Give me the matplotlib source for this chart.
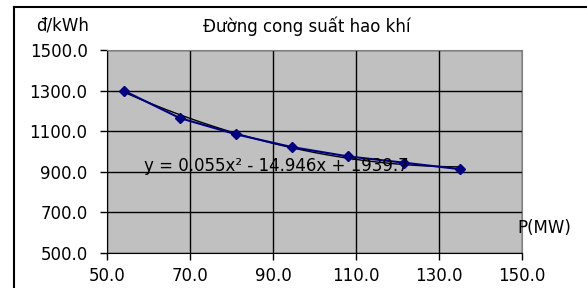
import numpy as np
import matplotlib.pyplot as plt
from matplotlib.lines import Line2D

# data
p_mw = [54.0, 67.5, 81.0, 94.5, 108.0, 121.5, 135.0]
cost = [1300.0, 1165.0, 1085.0, 1022.0, 976.0, 945.0, 913.0]
trend_coef = [0.055, -14.946, 1939.7]  # quadratic trendline shown on the chart

x_ticks = [50, 70, 90, 110, 130, 150]
y_ticks = [500, 700, 900, 1100, 1300, 1500]

plt.rcParams['font.family'] = ['DejaVu Sans']
FS = 12

fig = plt.figure(figsize=(5.87, 2.88), dpi=100)
ax = fig.add_axes([0.1823, 0.1215, 0.7070, 0.705])
ax.set_facecolor('#C0C0C0')

xt = np.linspace(p_mw[0], p_mw[-1], 100)
ax.plot(xt, np.polyval(trend_coef, xt), color='black', lw=1.0, zorder=3)
ax.plot(p_mw, cost, color='#000080', lw=1.5, marker='D', ms=5.5, zorder=4)

ax.set_xlim(50, 150)
ax.set_ylim(500, 1500)
ax.set_xticks(x_ticks)
ax.set_yticks(y_ticks)
ax.set_xticklabels([f"{v:.1f}" for v in x_ticks])
ax.set_yticklabels([f"{v:.1f}" for v in y_ticks])
ax.grid(True, color='black', lw=1.0)
ax.set_axisbelow(True)
ax.tick_params(axis='both', labelsize=FS, length=5, width=1, direction='out')
ax.tick_params(axis='y', pad=9)
ax.tick_params(axis='x', pad=5)
for s in ['top', 'right']:
    ax.spines[s].set_color('#808080')
for s in ['left', 'bottom']:
    ax.spines[s].set_color('black')

ax.text(59, 930, "y = 0.055x² - 14.946x + 1939.7", fontsize=FS,
        va='center', ha='left', zorder=5)

fig.text(307 / 587, 1 - 26 / 288, "Đường cong suất hao khí", fontsize=FS,
         ha='center', va='center')
fig.text(36 / 587, 1 - 26 / 288, "đ/kWh", fontsize=FS, ha='left', va='center')
fig.text(517 / 587, 1 - 228 / 288, "P(MW)", fontsize=FS, ha='left', va='center')

# outer chart frame (partially visible)
fig.add_artist(Line2D([14 / 587, 1.0], [1 - 7 / 288, 1 - 7 / 288],
                      transform=fig.transFigure, color='black', lw=1.5))
fig.add_artist(Line2D([14 / 587, 14 / 587], [0.0, 1 - 7 / 288],
                      transform=fig.transFigure, color='black', lw=1.5))

fig.savefig("out.png", dpi=100)
